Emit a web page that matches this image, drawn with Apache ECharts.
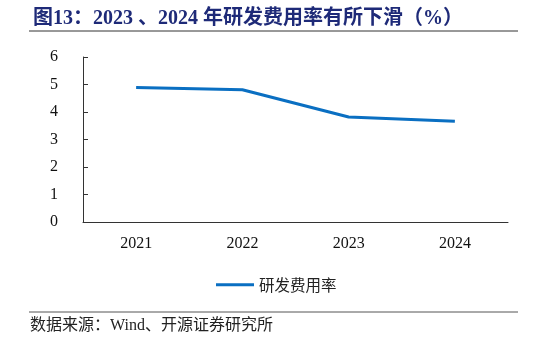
<!DOCTYPE html>
<html><head><meta charset="utf-8">
<script src="https://cdn.jsdelivr.net/npm/echarts@6/dist/echarts.min.js"></script>
<style>html,body{margin:0;padding:0;background:#fff}#c{width:546px;height:343px}</style>
</head><body><div id="c"></div>
<script>
var categories = ['2021', '2022', '2023', '2024'];
var rdRate = [4.89, 4.81, 3.82, 3.66];
var seriesName = '研发费用率';
var yTicks = [0, 1, 2, 3, 4, 5, 6];

var chart = echarts.init(document.getElementById('c'));
var serif = '"Liberation Serif","Times New Roman",serif';
chart.setOption({
  animation: false,
  title: {
    text: '图13：2023 、2024 年研发费用率有所下滑（%）',
    left: 28, top: 4,
    textStyle: {fontSize: 20, fontWeight: 'bold', color: '#1e2a78', fontFamily: '"Liberation Serif", "Noto Sans CJK SC", serif'}
  },
  graphic: [
    {type: 'line', shape: {x1: 29, y1: 31, x2: 518, y2: 31}, style: {stroke: '#333', lineWidth: 1}},
    {type: 'line', shape: {x1: 29, y1: 312, x2: 518, y2: 312}, style: {stroke: '#555', lineWidth: 1}},
    {type: 'text', left: 30, top: 318, style: {text: '数据来源：Wind、开源证券研究所', font: '16px "Liberation Serif", "Noto Sans CJK SC", serif', fill: '#222'}}
  ],
  legend: {
    data: [seriesName], left: 211, top: 272,
    itemWidth: 38, itemHeight: 3, itemGap: 5,
    icon: 'rect',
    textStyle: {fontSize: 15.5, color: '#222', fontFamily: '"Noto Sans CJK SC", serif'}
  },
  grid: {left: 83, right: 38, top: 57, bottom: 121},
  xAxis: {
    type: 'category', data: categories, boundaryGap: true,
    axisLine: {lineStyle: {color: '#333'}},
    axisTick: {inside: true, length: 5, lineStyle: {color: '#333'}},
    axisLabel: {fontSize: 16, color: '#111', fontFamily: serif, margin: 14}
  },
  yAxis: {
    type: 'value', min: yTicks[0], max: yTicks[yTicks.length - 1], interval: 1,
    splitLine: {show: false},
    axisLine: {show: true, lineStyle: {color: '#333'}},
    axisTick: {show: true, inside: true, length: 5, lineStyle: {color: '#333'}},
    axisLabel: {fontSize: 16, color: '#111', fontFamily: serif, margin: 25}
  },
  series: [{
    name: seriesName, type: 'line', data: rdRate,
    symbol: 'none', lineStyle: {width: 3, color: '#0a6fc2'}, itemStyle: {color: '#0a6fc2'}
  }]
});
</script></body></html>
